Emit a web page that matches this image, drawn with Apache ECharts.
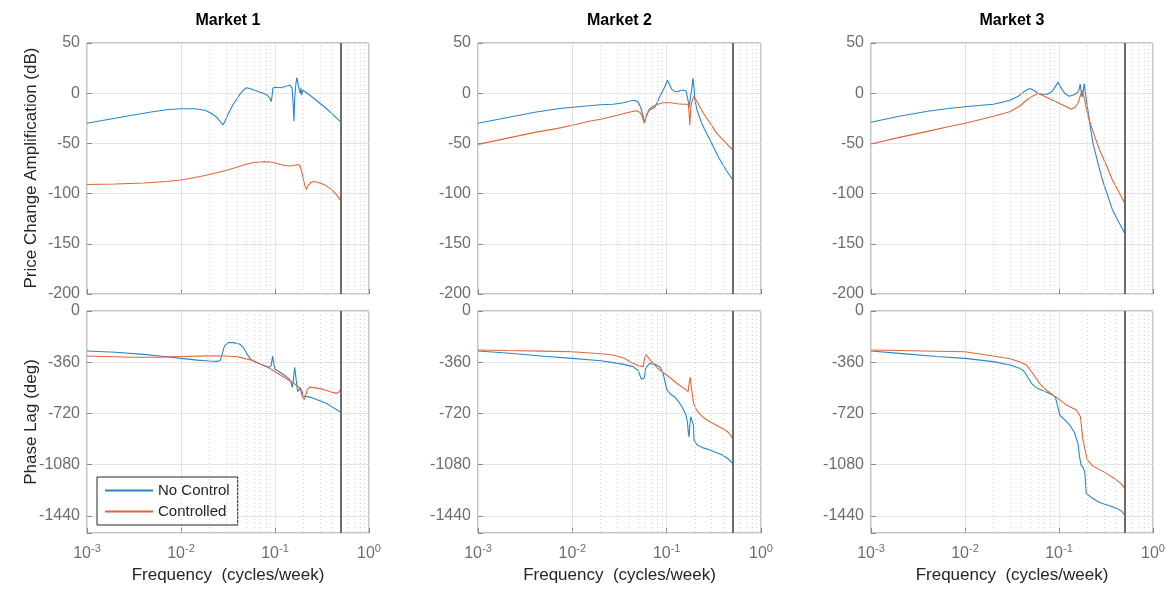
<!DOCTYPE html>
<html>
<head>
<meta charset="utf-8">
<script src="https://cdn.jsdelivr.net/npm/echarts@6/dist/echarts.min.js"></script>
<style>html,body{margin:0;padding:0;background:#fff}#c{width:1174px;height:590px}</style>
</head>
<body>
<div id="c"></div>
<script>
// ---------- DATA (frequency in cycles/week, magnitude in dB, phase in deg) ----------
const marketNames = ['Market 1', 'Market 2', 'Market 3'];
const seriesNames = ['No Control', 'Controlled'];
const decadeTicks = [0.001, 0.01, 0.1, 1];
const nyquistFreq = 0.5;

const m1MagNoCtrl = [[0.001,-30],[0.0015,-27],[0.002,-25],[0.003,-22],[0.005,-18.5],[0.007,-16.5],[0.01,-15.5],[0.014,-15.5],[0.018,-17],[0.021,-20],[0.024,-24],[0.0265,-29],[0.0278,-31.5],[0.029,-29],[0.032,-20],[0.036,-11],[0.041,-3],[0.046,3],[0.05,5.5],[0.055,4.5],[0.065,2],[0.075,0],[0.083,-2],[0.088,-5],[0.091,-8.5],[0.093,-3],[0.095,5],[0.1,6],[0.115,5.5],[0.13,7],[0.144,8],[0.152,5],[0.156,-10],[0.159,-28],[0.162,-5],[0.167,10],[0.171,15.5],[0.176,9],[0.182,2],[0.186,0],[0.189,5.5],[0.192,-2],[0.197,3],[0.21,1.5],[0.25,-4],[0.3,-10],[0.35,-15],[0.4,-20],[0.45,-24.5],[0.5,-28.5]];
const m1MagCtrl = [[0.001,-91],[0.002,-90.5],[0.004,-89.5],[0.007,-88],[0.01,-86.5],[0.016,-83],[0.02,-81],[0.03,-77],[0.04,-73.5],[0.05,-70.5],[0.06,-69],[0.07,-68.5],[0.08,-68.2],[0.09,-68.5],[0.1,-69.5],[0.12,-71.5],[0.14,-72.5],[0.16,-72],[0.175,-71],[0.185,-72.5],[0.195,-80],[0.205,-90],[0.215,-96],[0.225,-92],[0.24,-89],[0.26,-88],[0.3,-89.5],[0.35,-92],[0.4,-96],[0.45,-101],[0.5,-107]];
const m1PhNoCtrl = [[0.001,-281],[0.002,-290],[0.004,-305],[0.007,-322],[0.01,-333],[0.015,-345],[0.02,-351],[0.024,-354],[0.026,-350],[0.0275,-300],[0.029,-245],[0.0318,-222],[0.036,-222],[0.042,-232],[0.046,-255],[0.05,-297],[0.054,-333],[0.059,-352],[0.07,-372],[0.085,-395],[0.091,-385],[0.0944,-316],[0.097,-370],[0.1,-410],[0.11,-425],[0.125,-450],[0.14,-475],[0.148,-500],[0.153,-537],[0.157,-480],[0.162,-396],[0.167,-470],[0.174,-567],[0.18,-560],[0.186,-540],[0.19,-527],[0.195,-570],[0.2,-598],[0.235,-605],[0.3,-630],[0.355,-650],[0.4,-672],[0.45,-692],[0.5,-712]];
const m1PhCtrl = [[0.001,-316],[0.003,-325],[0.006,-324],[0.01,-320],[0.02,-315],[0.03,-316],[0.04,-322],[0.05,-338],[0.056,-345],[0.07,-375],[0.088,-403],[0.1,-427],[0.12,-458],[0.139,-485],[0.16,-510],[0.184,-543],[0.195,-600],[0.203,-626],[0.21,-600],[0.22,-555],[0.235,-535],[0.27,-540],[0.327,-551],[0.38,-565],[0.45,-579],[0.48,-570],[0.5,-548]];

const m2MagNoCtrl = [[0.001,-30],[0.002,-24.5],[0.004,-19],[0.007,-15.5],[0.01,-14],[0.015,-12.5],[0.02,-11.5],[0.027,-11],[0.035,-9.5],[0.042,-7.5],[0.046,-7],[0.05,-9],[0.053,-14],[0.056,-22],[0.058,-29.5],[0.06,-24],[0.065,-17],[0.075,-14],[0.084,-4],[0.095,6],[0.102,13],[0.108,8],[0.113,4],[0.12,2],[0.132,1.5],[0.14,3],[0.15,3],[0.16,2.5],[0.168,2],[0.171,-10],[0.174,-14],[0.178,-5],[0.185,5],[0.19,15],[0.195,5],[0.2,-8],[0.21,-17],[0.24,-32],[0.29,-47],[0.36,-65],[0.43,-77],[0.5,-86]];
const m2MagCtrl = [[0.001,-51],[0.002,-45],[0.004,-39],[0.007,-35],[0.01,-32],[0.015,-28],[0.02,-26],[0.03,-22],[0.04,-19],[0.047,-17.5],[0.052,-19],[0.055,-23],[0.058,-30],[0.061,-22],[0.066,-15.5],[0.072,-13],[0.08,-11],[0.092,-9.5],[0.11,-9.5],[0.13,-10.5],[0.15,-11],[0.169,-11],[0.173,-20],[0.176,-32],[0.18,-15],[0.185,-8],[0.195,-3],[0.2,-3.5],[0.22,-12],[0.245,-20],[0.28,-28],[0.34,-40],[0.42,-49],[0.5,-56.5]];
const m2PhNoCtrl = [[0.001,-281],[0.002,-295],[0.005,-318],[0.01,-333],[0.02,-350],[0.027,-363],[0.035,-375],[0.044,-391],[0.05,-420],[0.054,-480],[0.0557,-492],[0.058,-470],[0.06,-400],[0.066,-368],[0.075,-375],[0.084,-391],[0.09,-420],[0.094,-470],[0.1,-551],[0.11,-585],[0.121,-602],[0.135,-640],[0.15,-690],[0.16,-731],[0.166,-780],[0.17,-860],[0.173,-884],[0.176,-800],[0.18,-743],[0.188,-748],[0.192,-800],[0.195,-907],[0.21,-942],[0.24,-960],[0.287,-977],[0.39,-1012],[0.45,-1040],[0.5,-1071]];
const m2PhCtrl = [[0.001,-274],[0.002,-278],[0.005,-282],[0.01,-286],[0.02,-300],[0.027,-309],[0.035,-330],[0.044,-368],[0.05,-385],[0.0565,-391],[0.058,-340],[0.06,-305],[0.065,-335],[0.072,-368],[0.084,-415],[0.1,-450],[0.128,-508],[0.15,-540],[0.169,-567],[0.172,-520],[0.178,-466],[0.183,-540],[0.193,-649],[0.207,-696],[0.243,-747],[0.287,-778],[0.34,-805],[0.39,-825],[0.45,-852],[0.5,-895]];

const m3MagNoCtrl = [[0.001,-29],[0.002,-23],[0.004,-18],[0.007,-15],[0.01,-13.5],[0.015,-12],[0.02,-11],[0.025,-9],[0.03,-7],[0.037,-3],[0.043,2],[0.049,4.7],[0.055,2.5],[0.06,0],[0.065,-1],[0.075,-1],[0.085,2],[0.092,7],[0.098,11],[0.104,6],[0.115,0],[0.128,-3],[0.14,-2],[0.155,0],[0.163,3],[0.168,9],[0.172,2],[0.176,-3.7],[0.18,0],[0.185,9.7],[0.19,2],[0.203,-17],[0.215,-33],[0.23,-50],[0.26,-70],[0.29,-86.5],[0.33,-102],[0.37,-116],[0.43,-128],[0.5,-139.6]];
const m3MagCtrl = [[0.001,-50.6],[0.002,-44],[0.004,-38],[0.007,-33],[0.01,-30],[0.015,-26],[0.02,-23],[0.03,-18.4],[0.038,-13],[0.045,-7],[0.052,-3],[0.06,-0.3],[0.07,-3],[0.086,-7],[0.1,-10],[0.12,-13.5],[0.135,-16],[0.148,-14],[0.159,-10],[0.168,-3],[0.176,3],[0.186,-5],[0.195,-15],[0.21,-27],[0.24,-43],[0.27,-56.6],[0.32,-72],[0.37,-86.5],[0.43,-98],[0.5,-109.7]];
const m3PhNoCtrl = [[0.001,-281],[0.002,-298],[0.005,-320],[0.01,-333],[0.02,-356],[0.03,-380],[0.038,-403],[0.042,-420],[0.045,-450],[0.048,-480],[0.051,-508],[0.056,-535],[0.062,-550],[0.075,-572],[0.086,-590],[0.092,-610],[0.096,-660],[0.102,-731],[0.115,-765],[0.13,-801],[0.145,-850],[0.159,-930],[0.165,-1020],[0.172,-1083],[0.18,-1100],[0.188,-1130],[0.195,-1282],[0.22,-1310],[0.27,-1345],[0.35,-1370],[0.41,-1387],[0.46,-1405],[0.5,-1434]];
const m3PhCtrl = [[0.001,-274],[0.002,-278],[0.005,-283],[0.01,-286],[0.02,-316],[0.03,-335],[0.038,-356],[0.045,-380],[0.051,-427],[0.062,-508],[0.073,-555],[0.094,-607],[0.12,-660],[0.153,-696],[0.169,-743],[0.18,-907],[0.2,-1047],[0.23,-1090],[0.32,-1141],[0.41,-1188],[0.46,-1215],[0.5,-1246]];

const magData = [[m1MagNoCtrl, m1MagCtrl], [m2MagNoCtrl, m2MagCtrl], [m3MagNoCtrl, m3MagCtrl]];
const phaseData = [[m1PhNoCtrl, m1PhCtrl], [m2PhNoCtrl, m2PhCtrl], [m3PhNoCtrl, m3PhCtrl]];

// ---------- STYLE / LAYOUT ----------
const FONT = '"Liberation Sans", Arial, Helvetica, sans-serif';
const colors = ['#2a86cb', '#e0663a'];
const cols = [{left: 87, width: 282}, {left: 478, width: 283}, {left: 871, width: 282}];
const rowTop = {top: 43, height: 251}, rowBot = {top: 311, height: 222};
const tickColor = '#6e6e6e';
const boxColor = '#8a8a8a';

const minorFreqs = [];
for (const d of [0.001, 0.01, 0.1]) for (let k = 2; k <= 9; k++) minorFreqs.push(+(d * k).toPrecision(3));

const grids = [], xAxes = [], yAxes = [], series = [], graphics = [];
const supLabel = v => {
  const e = Math.round(Math.log10(v));
  return '{b|10}{s|' + e + '}';
};

for (let r = 0; r < 2; r++) {
  for (let c = 0; c < 3; c++) {
    const g = r * 3 + c;
    const rr = r === 0 ? rowTop : rowBot;
    grids.push({left: cols[c].left, width: cols[c].width, top: rr.top, height: rr.height,
      show: true, borderColor: boxColor, borderWidth: 1, backgroundColor: '#fff'});
    xAxes.push({
      type: 'log', logBase: 10, min: 0.001, max: 1, gridIndex: g, position: 'bottom',
      axisLine: {show: false, onZero: false},
      axisTick: {show: true, inside: true, length: 5, lineStyle: {color: boxColor}},
      splitLine: {show: true, lineStyle: {color: '#e4e4e4', width: 1}},
      axisLabel: r === 0 ? {show: false} : {
        show: true, margin: 10, color: tickColor, formatter: supLabel,
        rich: {b: {fontSize: 16, color: tickColor, fontFamily: FONT},
               s: {fontSize: 11, color: tickColor, fontFamily: FONT, padding: [0, 0, 10, 0]}}
      },
      name: r === 1 ? 'Frequency  (cycles/week)' : '',
      nameLocation: 'middle', nameGap: 34,
      nameTextStyle: {fontSize: 17, color: '#262626', fontFamily: FONT}
    });
    if (r === 0) {
      yAxes.push({
        type: 'value', min: -200, max: 50, interval: 50, gridIndex: g,
        axisLine: {show: false, onZero: false},
        axisTick: {show: true, inside: true, length: 5, lineStyle: {color: boxColor}},
        splitLine: {show: true, lineStyle: {color: '#e4e4e4', width: 1}},
        axisLabel: {color: tickColor, fontSize: 16, margin: 7, fontFamily: FONT}
      });
    } else {
      yAxes.push({
        type: 'value', inverse: true, min: 0, max: 1560, interval: 360, gridIndex: g,
        axisLine: {show: false, onZero: false},
        axisTick: {show: true, inside: true, length: 5, lineStyle: {color: boxColor}},
        splitLine: {show: true, lineStyle: {color: '#e4e4e4', width: 1}},
        axisLabel: {color: tickColor, fontSize: 16, margin: 7, fontFamily: FONT,
          formatter: v => (v % 360 === 0 ? (v === 0 ? '0' : String(-v)) : '')}
      });
    }
    // minor grid (dotted) lines
    series.push({
      type: 'line', xAxisIndex: g, yAxisIndex: g, data: [], silent: true, z: 1,
      markLine: {silent: true, symbol: ['none', 'none'], animation: false, label: {show: false},
        data: minorFreqs.map(f => ({xAxis: f, lineStyle: {type: [1, 3], color: '#d2d2d2', width: 1}}))}
    });
  }
}

for (let c = 0; c < 3; c++) {
  for (let s = 0; s < 2; s++) {
    series.push({name: seriesNames[s], type: 'line', xAxisIndex: c, yAxisIndex: c,
      data: magData[c][s], symbol: 'none', showSymbol: false, z: 3,
      lineStyle: {color: colors[s], width: 1.1}, itemStyle: {color: colors[s]}});
    series.push({name: seriesNames[s], type: 'line', xAxisIndex: 3 + c, yAxisIndex: 3 + c,
      data: phaseData[c][s].map(p => [p[0], -p[1]]), symbol: 'none', showSymbol: false, z: 3,
      lineStyle: {color: colors[s], width: 1.1}, itemStyle: {color: colors[s]}});
  }
}
// Nyquist line
for (let g = 0; g < 6; g++) {
  series.push({type: 'line', xAxisIndex: g, yAxisIndex: g, data: [], silent: true, z: 4,
    markLine: {silent: true, symbol: ['none', 'none'], animation: false, label: {show: false},
      data: [{xAxis: nyquistFreq, lineStyle: {type: 'solid', color: '#4a4a4a', width: 1.6}}]}});
}

for (let c = 0; c < 3; c++) {
  graphics.push({type: 'text', x: cols[c].left + cols[c].width / 2, y: 21,
    style: {text: marketNames[c], font: 'bold 16px ' + FONT, align: 'center', verticalAlign: 'middle', fill: '#000'}});
}
graphics.push({type: 'text', x: 31, y: 168, rotation: Math.PI / 2,
  style: {text: 'Price Change Amplification (dB)', font: '17px ' + FONT, align: 'center', verticalAlign: 'middle', fill: '#262626'}});
graphics.push({type: 'text', x: 31, y: 422, rotation: Math.PI / 2,
  style: {text: 'Phase Lag (deg)', font: '17px ' + FONT, align: 'center', verticalAlign: 'middle', fill: '#262626'}});

const chart = echarts.init(document.getElementById('c'), null, {renderer: 'canvas'});
chart.setOption({
  animation: false,
  backgroundColor: '#fff',
  grid: grids, xAxis: xAxes, yAxis: yAxes, series: series,
  graphic: graphics,
  legend: {
    data: seriesNames, orient: 'vertical', left: 97, top: 477,
    itemWidth: 48, itemHeight: 14, itemGap: 6, padding: [6, 8, 6, 7],
    borderColor: '#262626', borderWidth: 1, backgroundColor: '#fff', borderRadius: 0,
    itemStyle: {opacity: 0},
    textStyle: {fontSize: 15, color: '#262626', fontFamily: FONT},
    selectedMode: false
  }
});
</script>
</body>
</html>
